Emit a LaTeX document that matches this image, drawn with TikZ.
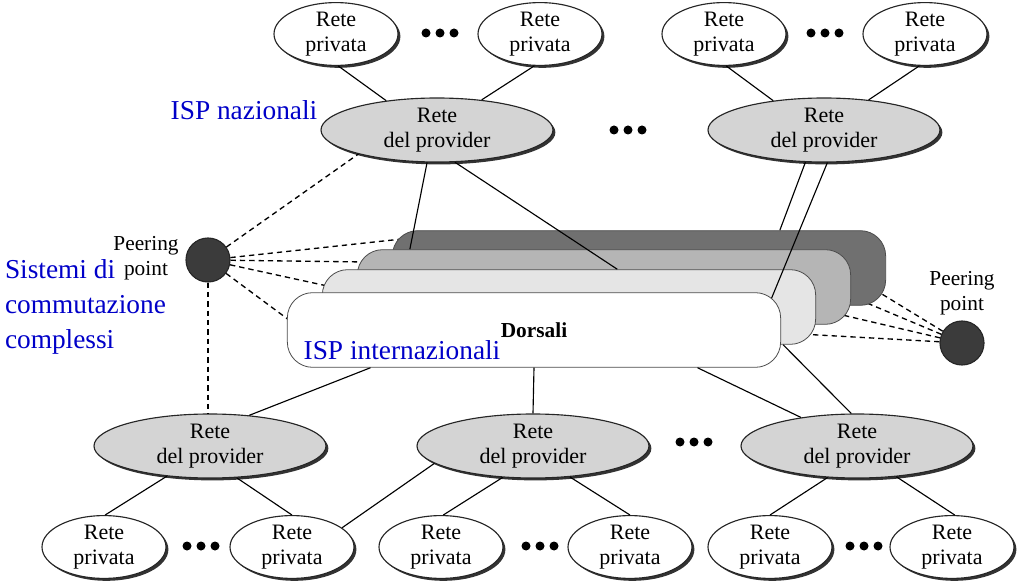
\documentclass[tikz,border=0pt]{standalone}
\usepackage{fontspec}
\setmainfont{Liberation Serif}
\usetikzlibrary{shapes.geometric,shadows}
\definecolor{ispblue}{RGB}{0,0,200}

\begin{document}
\begin{tikzpicture}
  [x=0.75pt,y=-0.75pt,line width=0.85pt,
   privnet/.style={ellipse,draw=black!85,fill=white,minimum width=93pt,minimum height=46pt,inner sep=0pt,align=center,
     font=\fontsize{16.5}{19}\selectfont,drop shadow={shadow xshift=1.8pt,shadow yshift=-1.8pt,fill=black!80,opacity=1}},
   provnet/.style={privnet,fill=black!17,minimum width=174pt,minimum height=48pt},
   bonelayer/.style={rectangle,rounded corners=19pt,draw=black!70,line width=0.6pt,minimum width=370pt,minimum height=56pt},
   peer/.style={circle,draw=black!85,fill=black!77,minimum size=33pt,inner sep=0pt},
   peerlabel/.style={align=center,font=\fontsize{16}{19}\selectfont},
   isplabel/.style={text=ispblue,align=left,font=\fontsize{20.5}{26}\selectfont},
   peerlink/.style={dash pattern=on 4pt off 3pt,line width=1pt}]
  \useasboundingbox (0,0) rectangle (1026,588);

  \node[privnet] (r1) at (336,34)  {Rete\\privata};
  \node[privnet] (r2) at (540,34)  {Rete\\privata};
  \node[privnet] (r3) at (724,34)  {Rete\\privata};
  \node[privnet] (r4) at (925,34)  {Rete\\privata};
  \node[provnet] (p1) at (437,130) {Rete\\del provider};
  \node[provnet] (p2) at (824,130) {Rete\\del provider};
  \node[provnet] (p3) at (210,446) {Rete\\del provider};
  \node[provnet] (p4) at (533,446) {Rete\\del provider};
  \node[provnet] (p5) at (857,446) {Rete\\del provider};
  \node[privnet] (r5) at (104,547) {Rete\\privata};
  \node[privnet] (r6) at (292,547) {Rete\\privata};
  \node[privnet] (r7) at (441,547) {Rete\\privata};
  \node[privnet] (r8) at (630,547) {Rete\\privata};
  \node[privnet] (r9) at (770,547) {Rete\\privata};
  \node[privnet] (r10) at (952,547) {Rete\\privata};

  \foreach \x/\y in {440/33,825/33,628/130,694/442,201/546,540/546,864/546}
    \foreach \d in {-14,0,14}
      \fill (\x+\d,\y) circle (4.5);

  \foreach \from/\to in {r1.-86/p1.150,r2.-100/p1.34,r3.-86/p2.150,r4.-100/p2.34,p3.-145/r5.88,p3.-50/r6.90,
    p4.-170/r6.21,p4.-134/r7.86,p4.-40/r8.90,p5.-133/r9.90,p5.-38/r10.85}
    \draw (\from) -- (\to);

  \node[peer] (pp1) at (208,260) {};
  \node[peer] (pp2) at (962,343) {};
  \node[peerlabel] (pl1) at (146,258) {Peering\\point};
  \node[peerlabel] (pl2) at (962,293) {Peering\\point};

  \coordinate (d1) at (402,239);
  \coordinate (d2) at (367,262);
  \coordinate (d3) at (332,287);
  \coordinate (d4) at (293,323);
  \coordinate (e1) at (872,288);
  \coordinate (e2) at (855,298);
  \coordinate (e3) at (838,314);
  \coordinate (e4) at (800,334);
  \foreach \to in {d1,d2,d3,d4,p1.-163}
    \draw[peerlink] (pp1) -- (\to);
  \foreach \to in {e1,e2,e3,e4}
    \draw[peerlink] (pp2) -- (\to);
  \draw[peerlink] (pp1) -- (pp1 |- p3.north);

  \node[bonelayer,fill=black!56] (l4) at (639,268) {};
  \node[bonelayer,fill=black!29] (l3) at (604,287) {};
  \draw (p1.-107) -- (l3.169);
  \draw (p2.-120) -- (l4.15.6);
  \node[bonelayer,fill=black!10] (l2) at (569,307) {};
  \draw (p1.-61) -- (l2.38);
  \coordinate (c4) at (770,302);
  \draw (p2.-84) -- (c4);
  \node[bonelayer,fill=white,font=\bfseries\fontsize{16}{19}\selectfont] (bb) at (534,330) {Dorsali};

  \draw (bb.-167) -- (p3.38);
  \draw (bb.south) -- (p4.north);
  \draw (bb.-13) -- (p5.153);
  \draw (l2.-10) -- (p5.100);

  \node[isplabel] (isp1) at (244,110) {ISP nazionali};
  \node[isplabel,anchor=west] (isp2) at (0,307) {Sistemi di\\commutazione\\complessi};
  \node[isplabel] (isp3) at (402,350) {ISP internazionali};
\end{tikzpicture}
\end{document}
